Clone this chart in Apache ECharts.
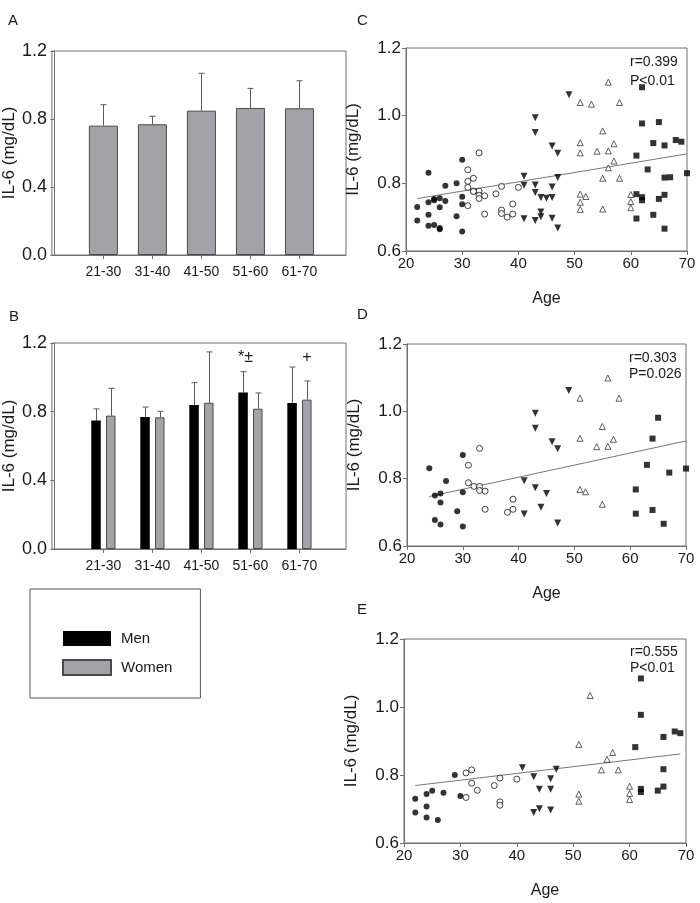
<!DOCTYPE html>
<html>
<head>
<meta charset="utf-8">
<script src="https://cdn.jsdelivr.net/npm/echarts@6/dist/echarts.min.js"></script>
<style>
  html, body { margin: 0; padding: 0; background: #fff; }
  #main { width: 700px; height: 903px; }
</style>
</head>
<body>
<div id="main"></div>
<script>
// age groups
const cats = ['21-30', '31-40', '41-50', '51-60', '61-70'];

// panel A: all subjects, mean and SD
const allMean = [0.761, 0.769, 0.849, 0.865, 0.863];
const allSD = [0.123, 0.047, 0.220, 0.115, 0.162];

// panel B: men / women
const menMean = [0.748, 0.769, 0.839, 0.911, 0.850];
const menSD = [0.068, 0.058, 0.130, 0.122, 0.210];
const womenMean = [0.777, 0.767, 0.852, 0.817, 0.870];
const womenSD = [0.159, 0.035, 0.296, 0.092, 0.109];

// significance marks in B: [category, level, text]
const marks = [[4, 1.114, '*±'], [5, 1.114, '+']];

// scatter points [age, IL-6], men (panel D)
const menG1 = [[24, 0.831], [25, 0.750], [25, 0.677], [26, 0.756], [26, 0.729], [26, 0.664], [27, 0.793], [29, 0.703], [30, 0.870], [30, 0.760], [30, 0.658]];
const menG2 = [[31, 0.840], [31, 0.788], [32, 0.777], [33, 0.890], [33, 0.777], [33, 0.765], [34, 0.763], [34, 0.709], [38, 0.700], [39, 0.739], [39, 0.709]];
const menG3 = [[41, 0.794], [41, 0.695], [43, 0.994], [43, 0.950], [43, 0.773], [44, 0.715], [45, 0.756], [46, 0.910], [47, 0.889], [47, 0.668], [49, 1.062]];
const menG4 = [[51, 1.039], [51, 0.920], [51, 0.768], [52, 0.761], [54, 0.895], [55, 0.955], [55, 0.724], [56, 1.099], [56, 0.896], [57, 0.917], [58, 1.039]];
const menG5 = [[61, 0.768], [61, 0.696], [63, 0.841], [64, 0.919], [64, 0.707], [65, 0.981], [66, 0.666], [67, 0.818], [70, 0.830]];

// women (panel E)
const womenG1 = [[22, 0.730], [22, 0.690], [24, 0.744], [24, 0.707], [24, 0.675], [25, 0.754], [26, 0.668], [27, 0.748], [29, 0.800], [30, 0.738]];
const womenG2 = [[31, 0.806], [31, 0.734], [32, 0.815], [32, 0.776], [33, 0.755], [36, 0.769], [37, 0.791], [37, 0.721], [37, 0.711], [40, 0.788]];
const womenG3 = [[41, 0.821], [43, 0.795], [43, 0.690], [44, 0.758], [44, 0.701], [46, 0.789], [46, 0.758], [46, 0.697], [47, 0.817]];
const womenG4 = [[51, 0.890], [51, 0.744], [51, 0.723], [53, 1.034], [55, 0.815], [56, 0.846], [57, 0.866], [58, 0.815], [60, 0.767], [60, 0.746], [60, 0.728]];
const womenG5 = [[61, 0.882], [62, 1.084], [62, 0.977], [62, 0.759], [62, 0.750], [65, 0.754], [66, 0.912], [66, 0.817], [66, 0.766], [68, 0.928], [69, 0.923]];

// regression lines
const fitC = [[22, 0.755], [70, 0.887]];
const fitD = [[24, 0.747], [70, 0.912]];
const fitE = [[22, 0.769], [69, 0.862]];

const stats = ['r=0.399\nP<0.01', 'r=0.303\nP=0.026', 'r=0.555\nP<0.01'];

const FONT = "'Liberation Sans', Arial, sans-serif";
const AXIS = '#707070';
const TXT = '#1a1a1a';
const GRAY = '#a3a3a7';

const dom = document.getElementById('main');
const chart = echarts.init(dom, null, { renderer: 'canvas' });

const grids = [
  { left: 51, top: 51, width: 295, height: 204 },
  { left: 51, top: 343, width: 295, height: 206 },
  { left: 406, top: 48, width: 281, height: 203 },
  { left: 407, top: 344, width: 279, height: 202 },
  { left: 404, top: 639, width: 282, height: 204 }
].map(g => Object.assign(g, { show: true, borderColor: AXIS, borderWidth: 1, backgroundColor: 'transparent' }));

const axisCommon = {
  axisLine: { show: true, lineStyle: { color: AXIS } },
  axisTick: { show: true, length: 4, lineStyle: { color: AXIS } },
  splitLine: { show: false }
};

function barX(i) {
  return Object.assign({}, axisCommon, {
    type: 'value', gridIndex: i, min: -0.05, max: 5.95,
    axisTick: { show: true, length: 4, lineStyle: { color: AXIS }, customValues: [1, 2, 3, 4, 5] },
    axisLabel: {
      customValues: [1, 2, 3, 4, 5], margin: 10,
      fontFamily: FONT, fontSize: 14, color: TXT,
      formatter: v => cats[Math.round(v) - 1] || ''
    }
  });
}

function ageX(i) {
  return Object.assign({}, axisCommon, {
    type: 'value', gridIndex: i, min: 20, max: 70, interval: 10,
    name: 'Age', nameLocation: 'middle', nameGap: 40,
    nameTextStyle: { fontFamily: FONT, fontSize: 16, color: TXT },
    axisLabel: { margin: 5, fontFamily: FONT, fontSize: 15, color: TXT }
  });
}

function ilY(i, min, interval, gap, size) {
  return Object.assign({}, axisCommon, {
    type: 'value', gridIndex: i, min: min, max: 1.2, interval: interval,
    name: 'IL-6 (mg/dL)', nameLocation: 'middle', nameGap: gap,
    nameTextStyle: { fontFamily: FONT, fontSize: 17, color: TXT },
    axisLabel: { margin: 5, fontFamily: FONT, fontSize: size, color: TXT, formatter: v => v.toFixed(1) }
  });
}

// error bars drawn above the bar top
function errorBars(idx, means, sds, dx) {
  return {
    type: 'custom', xAxisIndex: idx, yAxisIndex: idx, z: 1, silent: true,
    data: means.map((m, i) => [i + 1, m, m + sds[i]]),
    renderItem: (params, api) => {
      const lo = api.coord([api.value(0), api.value(1)]);
      const hi = api.coord([api.value(0), api.value(2)]);
      const x = Math.round(lo[0] + dx) + 0.5;
      const st = { stroke: '#5a5a5a', lineWidth: 1 };
      return {
        type: 'group', children: [
          { type: 'line', shape: { x1: x, y1: lo[1], x2: x, y2: hi[1] }, style: st },
          { type: 'line', shape: { x1: x - 3, y1: hi[1], x2: x + 3, y2: hi[1] }, style: st }
        ]
      };
    }
  };
}

const symbols = [
  { symbol: 'circle', symbolSize: 6, itemStyle: { color: '#000' } },
  { symbol: 'circle', symbolSize: 6, itemStyle: { color: '#fff', borderColor: '#111', borderWidth: 1 } },
  { symbol: 'triangle', symbolSize: 7, symbolRotate: 180, itemStyle: { color: '#000' } },
  { symbol: 'triangle', symbolSize: 6, itemStyle: { color: '#fff', borderColor: '#222', borderWidth: 0.9 } },
  { symbol: 'rect', symbolSize: 6, itemStyle: { color: '#000' } }
];

const menGroups = [menG1, menG2, menG3, menG4, menG5];
const womenGroups = [womenG1, womenG2, womenG3, womenG4, womenG5];
const panels = [
  menGroups.map((g, k) => g.concat(womenGroups[k])),
  menGroups,
  womenGroups
];
const fits = [fitC, fitD, fitE];

const series = [
  {
    name: 'All', type: 'bar', xAxisIndex: 0, yAxisIndex: 0, barWidth: 29, z: 2,
    itemStyle: { color: GRAY, borderColor: '#4a4a4a', borderWidth: 1 },
    data: allMean.map((v, i) => [i + 1, v])
  },
  errorBars(0, allMean, allSD, 0),
  {
    name: 'Men', type: 'bar', xAxisIndex: 1, yAxisIndex: 1, barWidth: 9.5, barGap: '55%', z: 2,
    itemStyle: { color: '#000', borderColor: '#000', borderWidth: 0 },
    data: menMean.map((v, i) => [i + 1, v])
  },
  {
    name: 'Women', type: 'bar', xAxisIndex: 1, yAxisIndex: 1, barWidth: 9.5, barGap: '55%', z: 2,
    itemStyle: { color: GRAY, borderColor: '#4a4a4a', borderWidth: 1 },
    data: womenMean.map((v, i) => [i + 1, v])
  },
  errorBars(1, menMean, menSD, -7.4),
  errorBars(1, womenMean, womenSD, 7.4),
  {
    type: 'custom', xAxisIndex: 1, yAxisIndex: 1, silent: true,
    data: marks,
    renderItem: (params, api) => {
      const p = api.coord([api.value(0), api.value(1)]);
      const dx = params.dataIndex === 0 ? -5 : 7.5;
      return {
        type: 'text', x: p[0] + dx, y: p[1],
        style: { text: marks[params.dataIndex][2], fontFamily: FONT, fontSize: 16, fill: TXT, align: 'center', verticalAlign: 'middle' }
      };
    }
  }
];

panels.forEach((groups, p) => {
  const idx = p + 2;
  groups.forEach((pts, k) => {
    series.push(Object.assign({
      type: 'scatter', xAxisIndex: idx, yAxisIndex: idx, z: 3, data: pts
    }, symbols[k]));
  });
  series.push({
    type: 'line', xAxisIndex: idx, yAxisIndex: idx, z: 2, symbol: 'none', silent: true,
    lineStyle: { color: '#777', width: 1 },
    data: fits[p]
  });
});

const labelText = (t, left, top, size) => ({
  type: 'text', left: left, top: top,
  style: { text: t, fontFamily: FONT, fontSize: size, fill: TXT }
});

chart.setOption({
  animation: false,
  backgroundColor: '#fff',
  grid: grids,
  xAxis: [barX(0), barX(1), ageX(2), ageX(3), ageX(4)],
  yAxis: [
    ilY(0, 0, 0.4, 27, 18),
    ilY(1, 0, 0.4, 27, 18),
    ilY(2, 0.6, 0.2, 44, 17),
    ilY(3, 0.6, 0.2, 44, 17),
    ilY(4, 0.6, 0.2, 44, 17)
  ],
  legend: {
    data: ['Men', 'Women'],
    orient: 'vertical', left: 30, top: 589,
    icon: 'rect', itemWidth: 48, itemHeight: 15, itemGap: 13,
    padding: [42, 28, 22, 32],
    borderColor: '#555', borderWidth: 1, borderRadius: 0,
    selectedMode: false,
    textStyle: { fontFamily: FONT, fontSize: 15, color: TXT, lineHeight: 15, padding: [0, 0, 0, 5] }
  },
  graphic: [
    labelText('A', 8, 13, 15),
    labelText('B', 9, 309, 15),
    labelText('C', 357, 13, 15),
    labelText('D', 357, 307, 15),
    labelText('E', 357, 602, 15),
    { type: 'text', left: 630, top: 53, style: { text: stats[0], fontFamily: FONT, fontSize: 14, lineHeight: 19, fill: TXT } },
    { type: 'text', left: 629, top: 350, style: { text: stats[1], fontFamily: FONT, fontSize: 14, lineHeight: 16, fill: TXT } },
    { type: 'text', left: 630, top: 644, style: { text: stats[2], fontFamily: FONT, fontSize: 14, lineHeight: 16, fill: TXT } }
  ],
  series: series
});
</script>
</body>
</html>
